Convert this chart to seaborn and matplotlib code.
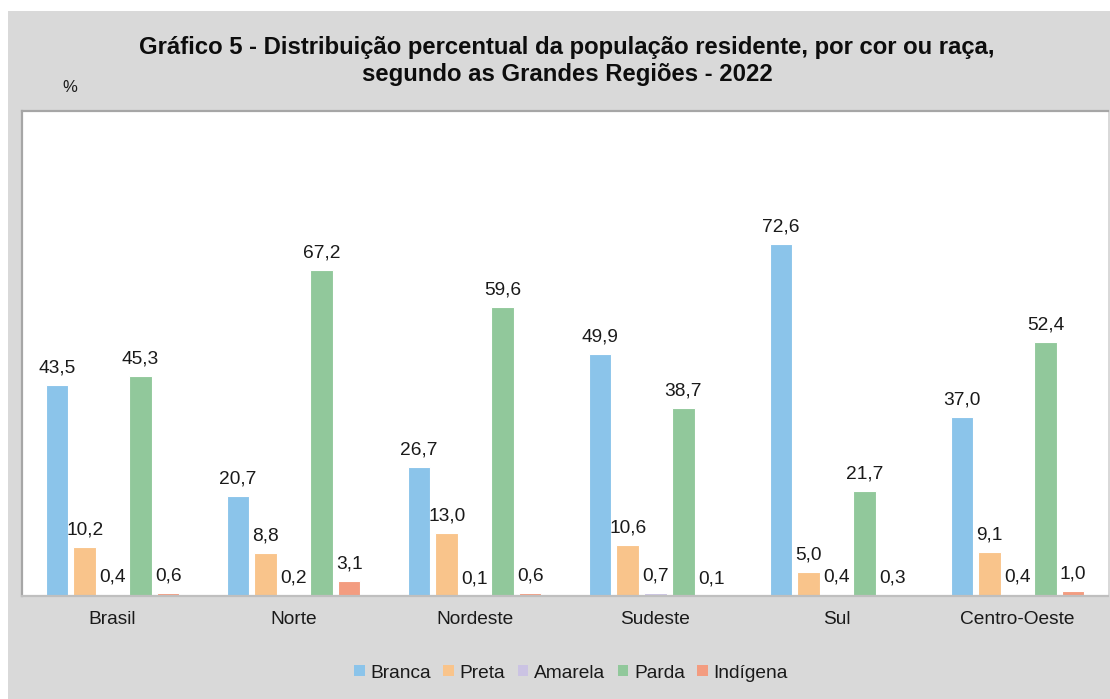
import pandas as pd
import matplotlib
matplotlib.use("Agg")
import matplotlib.pyplot as plt
import matplotlib.patches as mpatches
import seaborn as sns

# Data (percent)
regioes = ["Brasil", "Norte", "Nordeste", "Sudeste", "Sul", "Centro-Oeste"]
racas = ["Branca", "Preta", "Amarela", "Parda", "Indígena"]
branca = [43.5, 20.7, 26.7, 49.9, 72.6, 37.0]
preta = [10.2, 8.8, 13.0, 10.6, 5.0, 9.1]
amarela = [0.4, 0.2, 0.1, 0.7, 0.4, 0.4]
parda = [45.3, 67.2, 59.6, 38.7, 21.7, 52.4]
indigena = [0.6, 3.1, 0.6, 0.1, 0.3, 1.0]
cores = ["#8BC4EA", "#F9C48B", "#CBC3E3", "#91C89B", "#F39C80"]

# Long table for seaborn
series = [branca, preta, amarela, parda, indigena]
rows = []
for raca, vals in zip(racas, series):
    for reg, v in zip(regioes, vals):
        rows.append({"regiao": reg, "raca": raca, "valor": v})
df = pd.DataFrame(rows)

sns.set_style("white")
plt.rcParams["font.family"] = ["Liberation Sans", "DejaVu Sans"]

W, H = 1110, 699
fig = plt.figure(figsize=(W / 100, H / 100), dpi=100)
fig.patch.set_facecolor("white")
# gray chart-area background with thin white margin top/left
fig.add_artist(mpatches.Rectangle((8 / W, 0), 1, (H - 11) / H,
                                  transform=fig.transFigure,
                                  facecolor="#D9D9D9", edgecolor="none", zorder=0))

ax = fig.add_axes([22 / W, (H - 596) / H, 1086 / W, 485 / H])
ax.set_zorder(1)
ax.set_facecolor("white")

sns.barplot(data=df, x="regiao", y="valor", hue="raca", order=regioes,
            hue_order=racas, palette=cores, saturation=1, width=0.77, gap=0.2,
            edgecolor="white", linewidth=0.8, legend=False, ax=ax)

for cont in ax.containers:
    labels = [f"{b.get_height():.1f}".replace(".", ",") for b in cont]
    ax.bar_label(cont, labels=labels, padding=6, fontsize=13.8, color="#1a1a1a")

ax.set_xlim(-0.5, 5.5)
ax.set_ylim(0, 100)
ax.set_yticks([])
ax.set_xlabel("")
ax.set_ylabel("")
ax.tick_params(axis="x", length=0, pad=11, labelsize=13.8, labelcolor="#1a1a1a")

for side in ["top", "left"]:
    ax.spines[side].set_color("#A6A6A6")
    ax.spines[side].set_linewidth(1.6)
ax.spines["bottom"].set_color("#BFBFBF")
ax.spines["bottom"].set_linewidth(1.6)
ax.spines["right"].set_visible(False)

fig.text(567 / W, 1 - 61 / H,
         "Gráfico 5 - Distribuição percentual da população residente, por cor ou raça,\n"
         "segundo as Grandes Regiões - 2022",
         ha="center", va="center", fontsize=17.2, fontweight="bold",
         multialignment="center", linespacing=1.25, color="#0d0d0d")
fig.text(70 / W, 1 - 88 / H, "%", ha="center", va="center", fontsize=12, color="#1a1a1a")

handles = [mpatches.Patch(facecolor=c, edgecolor="none", label=r) for c, r in zip(cores, racas)]
fig.legend(handles=handles, loc="center", bbox_to_anchor=(571 / W, 1 - 673 / H),
           ncol=5, frameon=False, fontsize=13.8, handlelength=0.55, handleheight=0.55,
           handletextpad=0.3, columnspacing=0.65, labelcolor="#1a1a1a")

fig.savefig("out.png", dpi=100)
